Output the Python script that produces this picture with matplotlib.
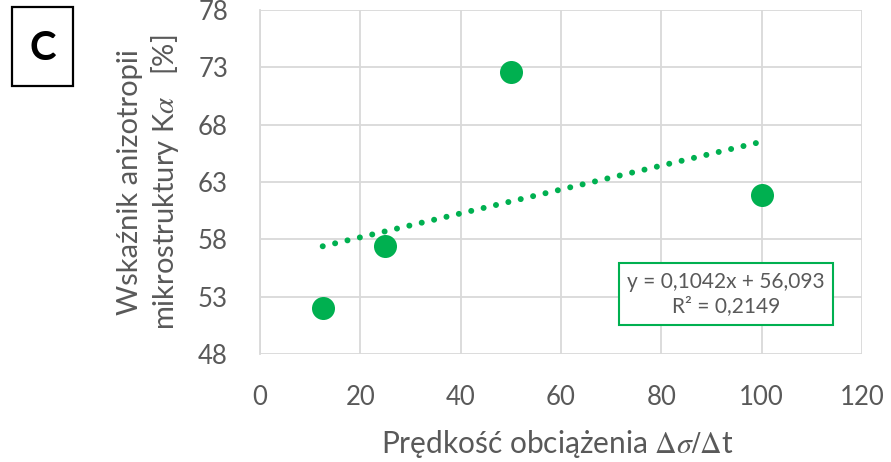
import matplotlib
matplotlib.use("Agg")
import matplotlib.pyplot as plt
from matplotlib.patches import Rectangle
import numpy as np

# Data
x_vals = [12.5, 25, 50, 100]
y_vals = [52.0, 57.4, 72.6, 61.9]
slope = 0.1042
intercept = 56.093
eq_text = "y = 0,1042x + 56,093\nR² = 0,2149"
x_ticks = [0, 20, 40, 60, 80, 100, 120]
y_ticks = [48, 53, 58, 63, 68, 73, 78]

GREEN = "#00B050"
GREY = "#595959"
GRID = "#D9D9D9"

plt.rcParams['font.family'] = ['Lato', 'DejaVu Sans']
plt.rcParams['mathtext.fontset'] = 'stix'

W, H = 891, 462
fig = plt.figure(figsize=(W / 100, H / 100), dpi=100)
left, right, top, bottom = 260, 862, 10, 354
ax = fig.add_axes([left / W, 1 - bottom / H, (right - left) / W, (bottom - top) / H])

ax.set_xlim(0, 120)
ax.set_ylim(48, 78)
ax.set_xticks(x_ticks)
ax.set_yticks(y_ticks)
ax.grid(True, color=GRID, linewidth=1.3)
ax.set_axisbelow(True)
for s in ['top', 'right', 'bottom']:
    ax.spines[s].set_visible(False)
ax.spines['left'].set_color(GRID)
ax.spines['left'].set_linewidth(1.3)
ax.tick_params(axis='both', length=0, labelsize=18.5, labelcolor=GREY)
ax.tick_params(axis='y', pad=23)
ax.tick_params(axis='x', pad=22)

# trendline
xt = np.array([min(x_vals), max(x_vals)])
ax.plot(xt, slope * xt + intercept, color=GREEN, linestyle=(0, (0.01, 2.12)),
        linewidth=4.3, dash_capstyle='round', zorder=2)
ax.scatter(x_vals, y_vals, s=275, color=GREEN, zorder=3, linewidths=0)

ax.text(0.774, 0.174, eq_text, transform=ax.transAxes, ha='center', va='center',
        fontsize=15, color=GREY, linespacing=1.3,
        bbox=dict(boxstyle='square,pad=0.4', facecolor='white', edgecolor=GREEN, linewidth=1.5))

fig.text(149 / W, 1 - 182 / H, "Wskaźnik anizotropii\nmikrostruktury K$\\alpha$   [%]",
         rotation=90, ha='center', va='center', fontsize=21, color=GREY,
         multialignment='center', linespacing=1.25)
fig.text(557 / W, 1 - 444 / H, "Prędkość obciążenia $\\Delta\\sigma/\\Delta$t",
         ha='center', va='center', fontsize=21.5, color=GREY)

fig.patches.append(Rectangle((12 / W, 1 - 86 / H), 61 / W, 79 / H, transform=fig.transFigure,
                             facecolor='white', edgecolor='black', linewidth=1.6))
fig.text(43 / W, 1 - 48 / H, "C", ha='center', va='center', fontsize=29,
         fontweight='bold', color='black')

fig.savefig("out.png", dpi=100)
